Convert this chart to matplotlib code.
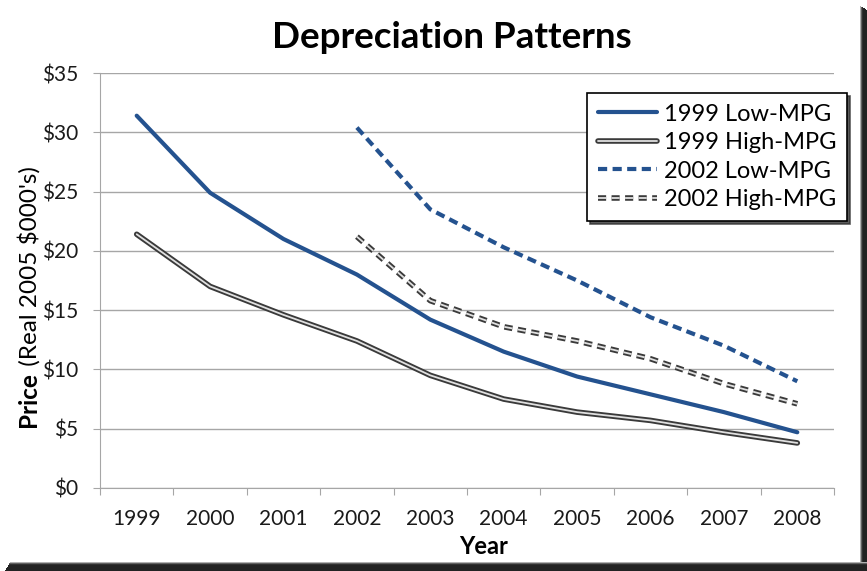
import numpy as np
import matplotlib.pyplot as plt
import matplotlib.patheffects as pe
from matplotlib.patches import Rectangle
from matplotlib.ticker import FixedLocator, FuncFormatter

plt.rcParams['font.family'] = ['Lato', 'DejaVu Sans']

# Vehicle prices by year (real 2005 $000's)
years = ['1999', '2000', '2001', '2002', '2003', '2004', '2005', '2006', '2007', '2008']
low_1999 = [31.4, 24.9, 21.0, 18.0, 14.2, 11.5, 9.4, 7.9, 6.4, 4.7]
high_1999 = [21.4, 17.0, 14.6, 12.4, 9.5, 7.5, 6.4, 5.7, 4.7, 3.8]
years_2002 = years[3:]
low_2002 = [30.4, 23.5, 20.3, 17.5, 14.4, 12.0, 9.0]
high_2002 = [21.2, 15.8, 13.6, 12.4, 10.9, 8.8, 7.1]

blue = '#24528f'
W, H = 867, 571

fig = plt.figure(figsize=(W / 100, H / 100), dpi=100)

# dark drop shadow along the right and bottom of the frame
shades = ['#b0b0b0', '#606060', '#303030', '#222222', '#222222', '#222222', '#222222', '#222222', '#222222']
for i, c in enumerate(shades[:7]):
    fig.patches.append(Rectangle(((860 + i) / W, 0), 1 / W, (H - 6 - i * 0.6) / H,
                                 transform=fig.transFigure, color=c, lw=0, zorder=0))
for i, c in enumerate(shades):
    fig.patches.append(Rectangle(((10 - i * 0.6) / W, (H - 562 - i) / H - 1 / H),
                                 1, 1 / H, transform=fig.transFigure, color=c, lw=0, zorder=0))

ax = fig.add_axes([100 / W, 1 - 488 / H, 734 / W, 415 / H])

x_all = np.arange(len(years))
x_02 = x_all[3:]

ax.plot(x_all, low_1999, color=blue, lw=3, solid_capstyle='round',
        label='1999 Low-MPG', zorder=4)
ax.plot(x_all, high_1999, color='#e0e0e0', lw=1.3, solid_capstyle='round',
        label='1999 High-MPG', zorder=3,
        path_effects=[pe.Stroke(linewidth=4, foreground='#3a3a3a'), pe.Normal()])
ax.plot(x_02, low_2002, color=blue, lw=3, ls=(0, (2.2, 1.3)),
        label='2002 Low-MPG', zorder=4)
ax.plot(x_02, high_2002, color='#e0e0e0', lw=1.3, ls=(0, (4.5, 3.0)),
        label='2002 High-MPG', zorder=3,
        path_effects=[pe.Stroke(linewidth=4, foreground='#3a3a3a'), pe.Normal()])

ax.set_xlim(-0.5, 9.5)
ax.set_ylim(0, 35)
ax.set_yticks(np.arange(0, 36, 5))
ax.yaxis.set_major_formatter(FuncFormatter(lambda v, p: '\\$%d' % v))
ax.grid(axis='y', color='#a6a6a6', lw=1)
ax.set_axisbelow(True)

# category ticks between years, labels centred on each year
ax.xaxis.set_major_locator(FixedLocator(np.arange(-0.5, 10, 1)))
ax.xaxis.set_minor_locator(FixedLocator(x_all))
ax.set_xticklabels([], minor=False)
ax.set_xticklabels(years, minor=True)
ax.tick_params(axis='x', which='major', length=5, color='#a6a6a6', direction='out')
ax.tick_params(axis='x', which='minor', length=0, pad=15, labelsize=15, labelcolor='#1a1a1a')
ax.tick_params(axis='y', length=5, color='#a6a6a6', labelsize=15, pad=11, labelcolor='#1a1a1a')

for s in ['top', 'right']:
    ax.spines[s].set_visible(False)
for s in ['left', 'bottom']:
    ax.spines[s].set_color('#a6a6a6')

fig.text(484 / W, 1 - 546 / H, 'Year', fontsize=17, fontweight='bold',
         ha='center', va='center')

# y label: bold "Price" followed by regular units
t = fig.text(29 / W, 1 - 427 / H, 'Price', rotation=90, fontsize=17.5,
             fontweight='bold', ha='center', va='bottom')
ax.annotate(" (Real 2005 \\$000's)", xy=(0.5, 1.0), xycoords=t, rotation=90,
            fontsize=17.5, ha='center', va='bottom')

fig.text(452 / W, 1 - 37 / H, 'Depreciation Patterns', fontsize=26.5,
         fontweight='bold', ha='center', va='center')

leg = ax.legend(loc='upper right', bbox_to_anchor=(847 / W, 1 - 93 / H),
                bbox_transform=fig.transFigure, fontsize=17,
                frameon=True, fancybox=False, shadow={'color': '#333333', 'alpha': 0.8},
                handlelength=2.5, handletextpad=0.3, borderpad=0.45,
                labelspacing=0.32, borderaxespad=0)
leg.get_frame().set_edgecolor('black')
leg.get_frame().set_linewidth(1.2)

fig.savefig('out.png', dpi=100)
